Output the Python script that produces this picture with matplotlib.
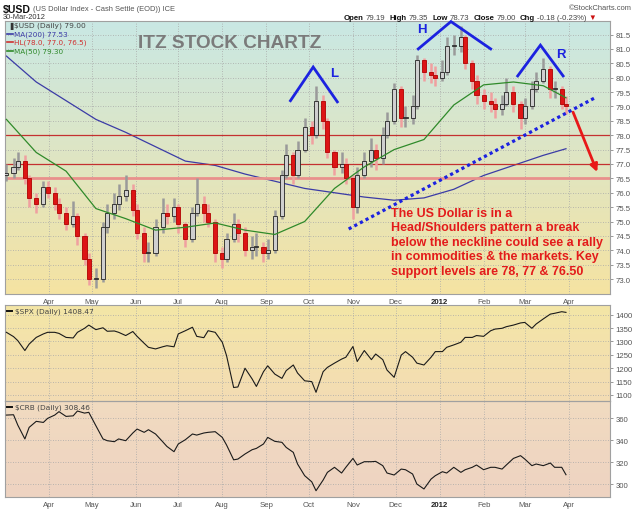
import matplotlib
matplotlib.use("Agg")
import matplotlib.pyplot as plt
import matplotlib.dates as mdates
from matplotlib.colors import to_rgb
import numpy as np
import pandas as pd

# ---------------- data ----------------
n_points = 95
dates = pd.date_range(end="2012-03-30", periods=n_points, freq="3B")

usd_first_open = 76.6
usd_close = [76.7, 76.9, 77.1, 76.5, 75.8, 75.6, 76.2, 76.0, 75.6, 75.3,
             74.9, 75.2, 74.5, 73.7, 73.0, 73.0, 74.8, 75.3, 75.6, 75.9,
             76.1, 75.4, 74.6, 73.9, 73.9, 74.8, 75.3, 75.2, 75.5, 74.9,
             74.4, 75.3, 75.6, 75.3, 75.0, 73.9, 73.7, 74.4, 74.9, 74.6,
             74.0, 74.1, 74.1, 73.9, 74.0, 75.2, 76.6, 77.3, 76.6, 77.5,
             78.3, 78.0, 79.2, 78.5, 77.4, 76.9, 77.0, 76.5, 75.5, 76.6,
             77.1, 77.5, 77.2, 78.0, 78.5, 79.6, 78.6, 78.6, 79.0, 80.6,
             80.2, 80.1, 80.0, 80.2, 81.1, 81.1, 81.4, 80.5, 79.9, 79.4,
             79.2, 79.1, 78.9, 79.1, 79.5, 79.1, 78.6, 79.0, 79.6, 79.9,
             80.3, 79.6, 79.6, 79.1, 79.0]
usd_high = [77.0, 77.2, 77.4, 77.3, 76.6, 76.0, 76.4, 76.4, 76.2, 75.8,
            75.5, 75.7, 75.3, 74.6, 73.9, 73.4, 75.0, 75.6, 76.0, 76.3,
            76.6, 76.3, 75.6, 74.8, 74.3, 75.1, 75.8, 75.6, 75.8, 75.6,
            75.0, 75.5, 76.5, 75.9, 75.6, 75.1, 74.1, 74.6, 75.3, 75.1,
            74.8, 74.5, 74.6, 74.3, 74.4, 75.4, 76.8, 77.7, 77.4, 77.8,
            78.6, 78.5, 79.7, 79.4, 78.6, 77.5, 77.4, 77.2, 76.6, 76.9,
            77.4, 77.9, 77.7, 78.3, 78.8, 79.8, 79.7, 79.0, 79.4, 80.8,
            80.7, 80.5, 80.4, 80.6, 81.4, 81.5, 81.8, 81.5, 80.6, 80.1,
            79.6, 79.5, 79.3, 79.4, 80.0, 79.7, 79.2, 79.3, 79.9, 80.2,
            80.7, 80.4, 79.9, 79.7, 79.35]
usd_low = [76.4, 76.5, 76.8, 76.3, 75.5, 75.3, 75.5, 75.8, 75.4, 75.1,
           74.7, 74.8, 74.2, 73.5, 72.8, 72.7, 72.9, 74.6, 75.1, 75.4,
           75.7, 75.2, 74.4, 73.6, 73.6, 73.8, 74.6, 74.9, 75.0, 74.6,
           74.1, 74.3, 75.2, 75.0, 74.8, 73.6, 73.4, 73.6, 74.3, 74.3,
           73.8, 73.7, 73.8, 73.6, 73.7, 73.9, 75.1, 76.5, 76.3, 76.5,
           77.4, 77.7, 77.9, 78.2, 77.2, 76.6, 76.7, 76.3, 75.1, 75.3,
           76.5, 76.9, 76.8, 77.0, 77.9, 78.4, 78.3, 78.3, 78.4, 78.9,
           79.9, 79.8, 79.7, 79.9, 80.1, 80.8, 80.9, 80.3, 79.6, 79.1,
           78.9, 78.8, 78.6, 78.7, 79.0, 78.8, 78.2, 78.4, 78.9, 79.5,
           79.8, 79.3, 79.3, 78.9, 78.73]

ma_step = 5          # moving averages read every 5th sample (+ last one)
ma200 = [80.75, 79.85, 79.2, 78.55, 78.1, 77.6, 77.1, 76.95, 76.65, 76.4,
         76.15, 76.0, 75.85, 75.74, 75.82, 76.12, 76.6, 76.95, 77.3, 77.53]
ma50 = [78.55, 77.4, 76.75, 75.45, 75.1, 74.7, 74.8, 74.95, 74.7, 74.55,
        75.0, 76.15, 76.9, 77.5, 77.85, 79.05, 79.75, 79.85, 79.72, 79.3]
hl_levels = [78.0, 77.0, 76.5]

spx = [1334, 1318, 1303, 1266, 1290, 1315, 1328, 1334, 1334, 1330,
       1315, 1313, 1334, 1349, 1361, 1344, 1351, 1338, 1339, 1334,
       1322, 1337, 1319, 1293, 1278, 1272, 1280, 1284, 1280, 1328,
       1340, 1353, 1319, 1314, 1340, 1334, 1297, 1247, 1128, 1130,
       1200, 1160, 1132, 1187, 1209, 1178, 1162, 1191, 1212, 1182,
       1153, 1150, 1110, 1187, 1203, 1219, 1234, 1241, 1281, 1225,
       1266, 1232, 1253, 1232, 1193, 1166, 1249, 1262, 1241, 1219,
       1212, 1241, 1262, 1262, 1278, 1287, 1297, 1315, 1315, 1322,
       1319, 1340, 1346, 1349, 1355, 1361, 1369, 1371, 1349, 1365,
       1384, 1402, 1405, 1411, 1408.47]
crb = [362.7, 363.0, 353.6, 341.0, 351.5, 357.0, 356.0, 359.7, 362.7, 365.8,
       361.5, 362.0, 366.4, 364.5, 365.2, 353.0, 341.0, 339.4, 338.5, 341.0,
       339.4, 346.4, 350.0, 347.0, 349.4, 345.5, 338.5, 334.2, 329.4, 336.4,
       340.3, 345.5, 344.5, 346.4, 347.0, 347.6, 342.4, 335.5, 322.0, 322.7,
       327.3, 331.2, 332.4, 336.4, 342.4, 338.8, 337.9, 333.3, 328.8, 318.2,
       307.6, 302.0, 293.9, 303.6, 310.6, 315.2, 310.0, 315.2, 323.3, 317.3,
       320.3, 320.3, 320.6, 316.7, 310.0, 308.2, 313.6, 313.0, 309.1, 300.0,
       295.5, 304.5, 307.6, 311.2, 310.0, 315.2, 310.6, 313.0, 315.2, 317.3,
       313.0, 315.2, 315.2, 313.6, 317.3, 323.3, 325.8, 322.7, 316.7, 318.2,
       316.7, 319.1, 315.2, 315.2, 308.46]

month_ticks = pd.date_range("2011-04-01", "2012-04-01", freq="MS")
month_labels = ["Apr", "May", "Jun", "Jul", "Aug", "Sep", "Oct", "Nov", "Dec",
                "2012", "Feb", "Mar", "Apr"]
usd_ticks = [73.0, 73.5, 74.0, 74.5, 75.0, 75.5, 76.0, 76.5, 77.0, 77.5,
             78.0, 78.5, 79.0, 79.5, 80.0, 80.5, 81.0, 81.5]
spx_ticks = [1100, 1150, 1200, 1250, 1300, 1350, 1400]
crb_ticks = [300, 320, 340, 360]

# pattern annotations (date, price)
left_shoulder = [("2011-09-18", 79.2), ("2011-10-04", 80.37), ("2011-10-21", 79.16)]
head = [("2011-12-17", 81.0), ("2012-01-09", 81.95), ("2012-02-06", 81.0)]
right_shoulder = [("2012-02-25", 80.06), ("2012-03-12", 81.13), ("2012-03-28", 80.06)]
neckline = [("2011-10-29", 74.74), ("2012-04-19", 79.29)]
break_arrow = [("2012-04-04", 78.8), ("2012-04-21", 76.72)]

# ---------------- figure / layout ----------------
W, H = 640, 510
fig = plt.figure(figsize=(6.4, 5.1), dpi=100)
SMALL = "Liberation Sans"


def rect(l, t, r, b):
    return [l / W, 1 - b / H, (r - l) / W, (b - t) / H]


def gradient(r, top, bottom):
    bg = fig.add_axes(r, zorder=0)
    c1, c2 = np.array(to_rgb(top)), np.array(to_rgb(bottom))
    t = np.linspace(0, 1, 256)[:, None]
    img = (c1 * (1 - t) + c2 * t)[:, None, :]
    bg.imshow(img, aspect="auto", extent=[0, 1, 0, 1], interpolation="bilinear")
    bg.set_axis_off()
    return bg


r_main = rect(5, 22, 610, 295)
r_spx = rect(5, 306, 610, 402)
r_crb = rect(5, 402, 610, 498)
gradient(r_main, "#c9e8e4", "#f5e3a2")
gradient(r_spx, "#f4e6a6", "#f3dcb4")
gradient(r_crb, "#f1dbc0", "#eed3c2")

ax = fig.add_axes(r_main, zorder=1)
ax2 = fig.add_axes(r_spx, zorder=1)
ax3 = fig.add_axes(r_crb, zorder=1)

x0 = mdates.date2num(pd.Timestamp("2011-03-01"))
x1 = mdates.date2num(pd.Timestamp("2012-04-30"))
grid_kw = dict(color="#a8a8a8", lw=0.6, ls=(0, (1, 2)))

for a, ticks, lims in ((ax, usd_ticks, (72.48, 81.97)),
                       (ax2, spx_ticks, (1077.6, 1436)),
                       (ax3, crb_ticks, (288.2, 375.5))):
    a.set_facecolor("none")
    a.set_xlim(x0, x1)
    a.set_ylim(*lims)
    a.yaxis.tick_right()
    a.set_yticks(ticks)
    a.set_xticks(mdates.date2num(month_ticks))
    a.grid(True, **grid_kw)
    a.set_axisbelow(True)
    a.tick_params(axis="y", length=2, width=0.6, color="#888888", pad=2,
                  labelsize=5.6, labelcolor="#555555")
    a.tick_params(axis="x", length=0, pad=3, labelsize=5.6, labelcolor="#555555")
    for s in a.spines.values():
        s.set_color("#a0a0a0")
        s.set_linewidth(0.8)
    for lab in a.get_yticklabels():
        lab.set_fontfamily(SMALL)

ax.set_yticklabels([f"{v:.1f}" for v in usd_ticks])
for a in (ax, ax3):
    a.set_xticklabels(month_labels)
    for lab in a.get_xticklabels():
        lab.set_fontfamily(SMALL)
        if lab.get_text() == "2012":
            lab.set_fontweight("bold")
            lab.set_color("#222222")
ax2.set_xticklabels([])

# ---------------- USD candles ----------------
dn = mdates.date2num(dates.to_pydatetime())
c = np.array(usd_close)
o = np.r_[usd_first_open, c[:-1]]
hi = np.array(usd_high)
lo = np.array(usd_low)
up = c >= o
ax.vlines(dn, lo, hi, colors=np.where(up, "#9a9a9a", "#f0a0a0"), lw=1.8, zorder=3)
body_h = np.maximum(np.abs(c - o), 0.04)
ax.bar(dn, body_h, bottom=np.minimum(o, c), width=2.9,
       color=np.where(up, "#cfcfcf", "#dd1515"),
       edgecolor=np.where(up, "#222222", "#b00000"), linewidth=0.6, zorder=4)

ma_dates = list(dn[::ma_step]) + [dn[-1]]
ax.plot(ma_dates, ma200, color="#3b3ba6", lw=0.9, zorder=2)
ax.plot(ma_dates, ma50, color="#2f8a2a", lw=0.9, zorder=5)
ax.axhline(hl_levels[0], color="#c43030", lw=0.9, zorder=2)
ax.axhline(hl_levels[1], color="#c43030", lw=0.9, zorder=2)
ax.axhline(hl_levels[2], color="#e9908c", lw=2.0, zorder=2)


def pts(lst):
    return ([mdates.date2num(pd.Timestamp(d)) for d, _ in lst], [v for _, v in lst])


blue = "#1c22e0"
for shape in (left_shoulder, head, right_shoulder):
    xs, ys = pts(shape)
    ax.plot(xs, ys, color=blue, lw=2.0, zorder=6, clip_on=False,
            solid_joinstyle="miter")
xs, ys = pts(neckline)
ax.plot(xs, ys, color=blue, lw=2.3, ls=(0, (1, 1)), zorder=6)
xs, ys = pts(break_arrow)
ax.annotate("", xy=(xs[1], ys[1]), xytext=(xs[0], ys[0]), zorder=7,
            arrowprops=dict(arrowstyle="-|>", color="#e81818", lw=2.0,
                            mutation_scale=11, shrinkA=0, shrinkB=0))

# ---------------- SPX / CRB lines ----------------
ax2.plot(dn, spx, color="#1a1a1a", lw=0.8, zorder=3)
ax3.plot(dn, crb, color="#1a1a1a", lw=0.8, zorder=3)

# ---------------- text overlay (pixel coordinates) ----------------
ov = fig.add_axes([0, 0, 1, 1], zorder=10)
ov.set_xlim(0, W)
ov.set_ylim(H, 0)
ov.set_axis_off()
ov.patch.set_alpha(0)

ov.text(230, 43, "ITZ STOCK CHARTZ", family="Liberation Sans", weight="bold",
        size=13.7, color="#7b7b7b", ha="center", va="center")
ov.text(422, 30, "H", family="Liberation Sans", weight="bold", size=9.5,
        color=blue, ha="center", va="center")
ov.text(334, 74, "L", family="Liberation Sans", weight="bold", size=9.5,
        color=blue, ha="center", va="center")
ov.text(561, 55, "R", family="Liberation Sans", weight="bold", size=9.5,
        color=blue, ha="center", va="center")
ov.text(391, 208, "The US Dollar is in a\nHead/Shoulders pattern a break\n"
        "below the neckline could see a rally\nin commodities & the markets. Key\n"
        "support levels are 78, 77 & 76.50", family="Liberation Sans",
        weight="bold", size=9.0, color="#e31b1b", ha="left", va="top",
        linespacing=1.27)


def chain(x, y, parts, size=5.3, family=SMALL):
    prev = None
    for s, color, weight, gap in parts:
        if prev is None:
            prev = ov.text(x, y, s, color=color, weight=weight, size=size,
                           family=family, ha="left", va="center")
        else:
            prev = ov.annotate(s, xy=(1, 0.5), xycoords=prev,
                               xytext=(gap, 0), textcoords="offset points",
                               color=color, weight=weight, size=size,
                               family=family, ha="left", va="center")
    return prev


ov.text(3, 9.5, "$USD", color="#111111", weight="bold", size=7.6,
        family=SMALL, ha="left", va="center")
ov.text(33, 9.5, "(US Dollar Index - Cash Settle (EOD)) ICE", size=5.4,
        family=SMALL, color="#555555", va="center")
ov.text(3, 17.5, "30-Mar-2012", size=5.4, family=SMALL, color="#333333", va="center")
ov.text(632, 8, "\u00a9StockCharts.com", size=5.4, family=SMALL,
        color="#555555", ha="right", va="center")
chain(344, 18, [("Open", "#111111", "bold", 0), ("79.19", "#444444", "normal", 1.5),
                ("High", "#111111", "bold", 3), ("79.35", "#444444", "normal", 1.5),
                ("Low", "#111111", "bold", 3), ("78.73", "#444444", "normal", 1.5),
                ("Close", "#111111", "bold", 3), ("79.00", "#444444", "normal", 1.5),
                ("Chg", "#111111", "bold", 3), ("-0.18 (-0.23%)", "#444444", "normal", 1.5),
                ("\u25bc", "#cc1111", "normal", 1.0)], size=5.6)

legend_font = "DejaVu Sans"
ov.text(7, 26, "\u2590", size=5, color="#333333", va="center", family=legend_font)
ov.text(14, 26, "$USD (Daily) 79.00", size=5.4, color="#444444", va="center",
        family=legend_font)
for yy, txt, col in ((34.5, "MA(200) 77.53", "#3b3ba6"),
                     (43, "HL(78.0, 77.0, 76.5)", "#d03030"),
                     (51.5, "MA(50) 79.30", "#2f8a2a")):
    ov.plot([7, 13], [yy, yy], color=col, lw=1.2)
    ov.text(14, yy, txt, size=5.2, color=col, va="center", family=legend_font)
for yy, txt in ((312, "$SPX (Daily) 1408.47"), (408, "$CRB (Daily) 308.46")):
    ov.plot([7, 12], [yy, yy], color="#111111", lw=1.4)
    ov.text(15, yy, txt, size=5.3, color="#444444", va="center", family=legend_font)

fig.savefig("out.png", dpi=100)
